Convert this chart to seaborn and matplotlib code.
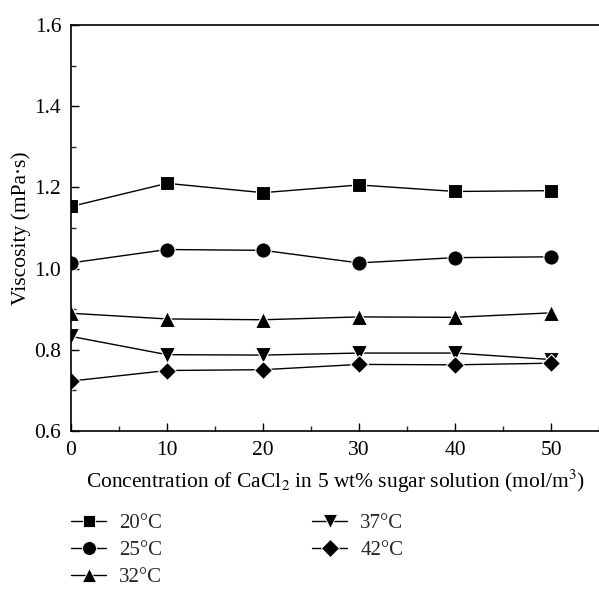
import matplotlib
matplotlib.use("Agg")
import matplotlib.pyplot as plt
from matplotlib.lines import Line2D
from matplotlib.ticker import MultipleLocator
import pandas as pd
import seaborn as sns

# CaCl2 concentration (mol/m^3)
concentration = [0, 10, 20, 30, 40, 50]

# Viscosity (mPa·s) at each temperature
visc_20 = [1.153, 1.210, 1.187, 1.206, 1.190, 1.192]
visc_25 = [1.014, 1.047, 1.045, 1.014, 1.027, 1.029]
visc_32 = [0.890, 0.876, 0.874, 0.881, 0.880, 0.891]
visc_37 = [0.833, 0.788, 0.787, 0.792, 0.792, 0.776]
visc_42 = [0.723, 0.749, 0.751, 0.764, 0.763, 0.767]

temperatures = ["20°C", "25°C", "32°C", "37°C", "42°C"]
series = [visc_20, visc_25, visc_32, visc_37, visc_42]
marker_shapes = ["s", "o", "^", "v", "D"]
marker_sizes = [10, 11, 11, 11, 9]
legend_marker_sizes = [9, 10, 10, 10, 9]

rows = []
for t, vals in zip(temperatures, series):
    for c, v in zip(concentration, vals):
        rows.append({"Concentration": c, "Viscosity": v, "Temperature": t})
df = pd.DataFrame(rows)

sns.set_theme(style="ticks")
plt.rcParams["font.family"] = ["Liberation Serif", "DejaVu Serif"]
plt.rcParams["mathtext.fontset"] = "stix"

fig = plt.figure(figsize=(5.99, 5.89), dpi=100)
ax = fig.add_axes([71 / 599, 1 - 431 / 589, 1 - 71 / 599, (431 - 25) / 589])

sns.lineplot(
    data=df, x="Concentration", y="Viscosity",
    hue="Temperature", style="Temperature",
    palette=["black"] * 5,
    markers=dict(zip(temperatures, marker_shapes)),
    dashes=False, linewidth=1.0, markersize=10,
    markeredgecolor="white", markeredgewidth=0.8,
    legend=False, ax=ax,
)

for line, ms in zip(ax.lines, marker_sizes):
    line.set_markersize(ms)

ax.set_xlim(0, 55)
ax.set_ylim(0.6, 1.6)
ax.xaxis.set_minor_locator(MultipleLocator(5))
ax.yaxis.set_minor_locator(MultipleLocator(0.1))
ax.set_xticks([0, 10, 20, 30, 40, 50])
ax.set_xticklabels(["0", "10", "20", "30", "40", "50"])
ax.set_yticks([0.6, 0.8, 1.0, 1.2, 1.4, 1.6])
ax.set_yticklabels(["0.6", "0.8", "1.0", "1.2", "1.4", "1.6"])

ax.tick_params(which="major", direction="in", length=6, width=1.0,
               labelsize=15.5, colors="black", pad=7, top=False, right=False)
ax.tick_params(which="minor", direction="in", length=3.5, width=1.0,
               top=False, right=False)

for side in ["left", "bottom", "top"]:
    ax.spines[side].set_linewidth(1.2)
    ax.spines[side].set_color("black")
ax.spines["right"].set_visible(False)

ax.set_xlabel("Concentration of CaCl$_2$ in 5 wt% sugar solution (mol/m$^3$)",
              fontsize=15.5, color="black", labelpad=6)
ax.set_ylabel("Viscosity (mPa·s)", fontsize=15.5, color="black", labelpad=2)

handles = [
    Line2D([], [], color="black", linewidth=1.0, marker=m, markersize=ms,
           markeredgecolor="white", markeredgewidth=0.6)
    for m, ms in zip(marker_shapes, legend_marker_sizes)
]
fig.legend(handles, temperatures, ncol=2, loc="upper left",
           bbox_to_anchor=(63 / 599, 1 - 505 / 589), frameon=False,
           fontsize=15, handlelength=1.68, handletextpad=0.62,
           columnspacing=7.2, labelspacing=0.36, borderaxespad=0)

fig.savefig("out.png", dpi=100)
